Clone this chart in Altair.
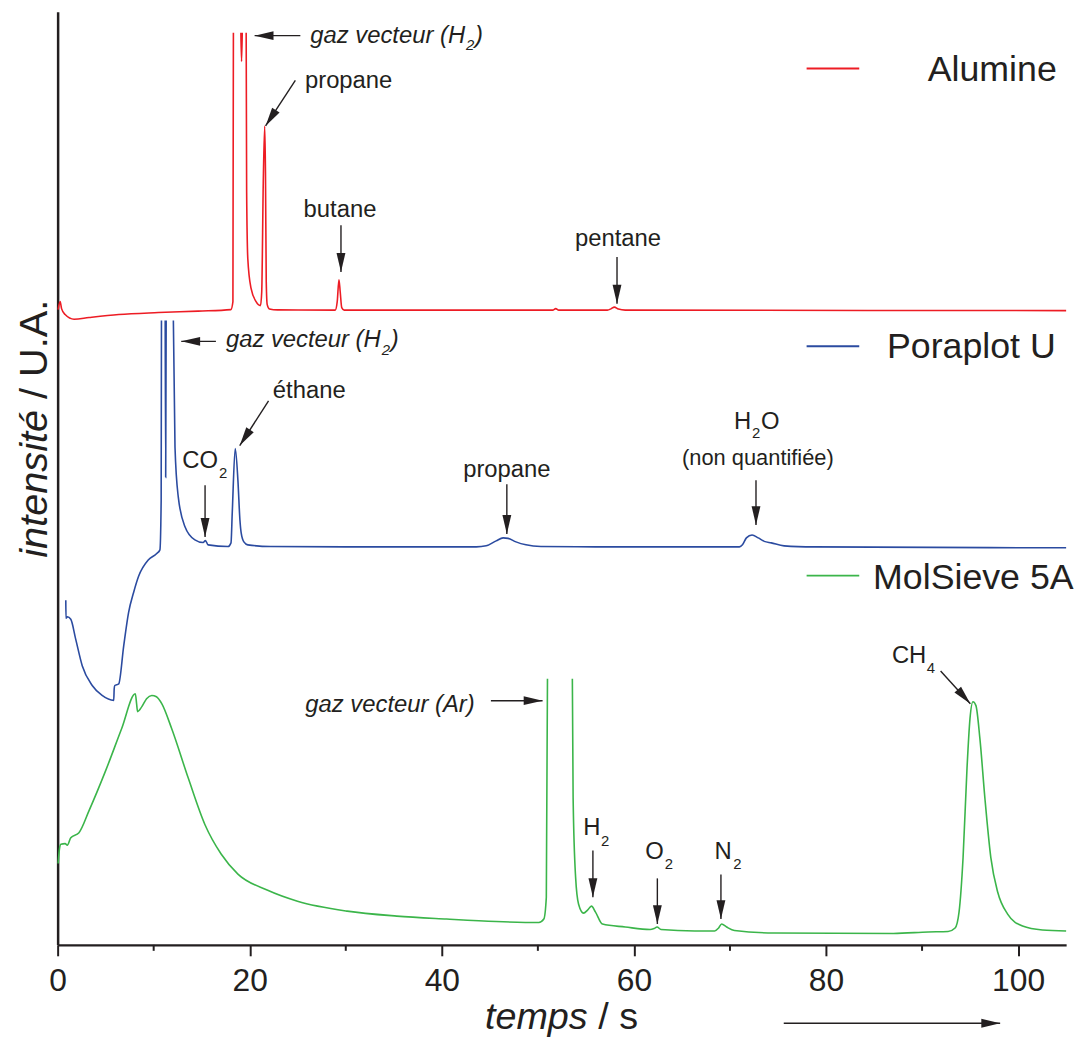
import altair as alt
import pandas as pd

FONT = "Liberation Sans"
INK = "#231f20"
RED = "#ED1C24"
BLUE = "#2B4BA0"
GREEN = "#3BB54A"

# ---------------- traces (time in s, intensity in arbitrary units) ----------------
red_t = [0.05, 0.26, 0.41, 0.78, 1.71, 3.26, 6.36, 10.49, 14.63, 18.04, 18.25, 18.30,
         19.08, 19.15, 19.22,
         19.63, 19.68, 19.80, 20.14, 20.66, 21.12, 21.25, 21.41, 21.56, 21.64, 21.72, 21.82,
         22.05, 22.90, 28.90, 29.11, 29.29, 29.42, 29.58, 29.83, 50.83, 51.55, 51.86, 52.17,
         57.24, 57.65, 57.96, 58.38, 59.10, 105.0]
red_v = [64.0, 64.8, 64.1, 63.5, 63.03, 63.2, 63.5, 63.7, 63.85, 64.0, 64.8, 91.9,
         91.9, 89.0, 91.9,
         91.9, 75.8, 69.13, 66.13, 64.8, 64.4, 65.8, 76.8, 82.5, 77.8, 66.8, 64.5,
         64.07, 63.97, 63.95, 64.8, 67.0, 65.8, 64.2, 63.95, 63.95, 63.95, 64.1, 63.95,
         63.95, 64.1, 64.25, 64.05, 63.95, 63.9]
red_seg = [0] * 12 + [1] * 3 + [2] * 30

blue_t = [0.85, 0.87, 1.01, 1.37, 1.88, 2.56, 3.60, 4.63, 5.84, 5.89, 5.95, 6.36, 6.88, 7.39,
          7.91, 8.43, 9.46, 10.29, 10.65, 10.78, 10.81,
          11.20, 11.25, 11.30,
          12.05, 12.22, 12.56, 13.26, 14.29, 15.15, 15.39, 15.67, 17.74, 18.05, 18.18, 18.49,
          18.77, 18.98, 19.11, 19.39, 19.80, 22.18, 30.14, 43.59, 44.62, 45.66, 46.38, 46.90,
          47.72, 48.76, 50.31, 56.00, 70.99, 71.30, 71.71, 72.30, 72.95, 73.57, 74.30, 75.64,
          78.75, 105.0]
blue_v = [34.73, 32.9, 33.05, 32.8, 30.8, 28.13, 26.13, 25.13, 24.63, 25.8, 26.13, 26.3, 30.13,
          33.5, 35.5, 37.13, 38.8, 39.4, 39.8, 44.8, 62.9,
          62.9, 47.1, 62.9,
          62.9, 50.13, 45.13, 42.13, 40.8, 40.53, 40.73, 40.3, 40.13, 40.5, 43.5, 50.0,
          46.8, 42.8, 41.5, 40.6, 40.3, 40.13, 40.1, 40.1, 40.2, 40.7, 41.0, 40.95,
          40.6, 40.3, 40.13, 40.1, 40.1, 40.3, 41.0, 41.3, 41.0, 40.65, 40.5, 40.2,
          40.1, 40.0]
blue_seg = [0] * 21 + [1] * 3 + [2] * 38

green_t = [0.05, 0.21, 0.33, 0.78, 1.01, 1.37, 2.22, 3.26, 4.98, 6.67, 8.09, 8.22, 8.32, 8.77,
           9.26, 9.80, 10.29, 10.84, 11.87, 13.60, 15.33, 17.04, 18.77, 21.87, 24.97, 30.14,
           35.31, 40.49, 45.66, 50.10, 50.62, 50.88, 51.00,
           53.59, 53.67, 53.93, 54.24, 54.76, 55.17, 55.58, 56.00, 56.72, 59.10, 61.68, 62.10,
           62.41, 62.82, 66.34, 68.41, 68.82, 69.13, 69.65, 70.47, 74.61, 87.02, 90.64, 92.71,
           93.44, 93.85, 94.27, 94.68, 94.99, 95.30, 95.61, 96.02, 96.54, 97.16, 97.88, 98.91,
           100.46, 102.53, 105.0]
green_v = [8.2, 9.8, 10.13, 10.2, 10.05, 10.8, 11.3, 13.5, 17.5, 21.8, 25.3, 24.3, 23.5, 24.0,
           24.8, 25.13, 25.0, 24.3, 21.8, 16.8, 12.13, 9.13, 7.13, 5.5, 4.4, 3.4,
           2.9, 2.6, 2.35, 2.25, 2.6, 4.8, 26.8,
           26.8, 14.8, 6.8, 4.1, 3.2, 3.5, 3.9, 3.3, 2.1, 1.8, 1.55, 1.65,
           1.8, 1.55, 1.4, 1.4, 1.7, 2.1, 1.8, 1.45, 1.2, 1.15, 1.3, 1.35,
           1.7, 3.3, 8.8, 17.8, 22.8, 24.5, 24.1, 20.8, 14.8, 8.8, 5.3, 3.1,
           1.9, 1.5, 1.4]
green_seg = [0] * 33 + [1] * 39

x_ticks = [0, 20, 40, 60, 80, 100]
x_minor = [10, 30, 50, 70, 90]

# ---------------- annotations ----------------
# normal, left aligned
nl_text = ["propane", "CO", "2", "H", "2", "O", "H", "2", "O", "2", "N", "2", "CH", "4"]
nl_t = [25.75, 12.97, 16.79, 70.41, 72.29, 73.22, 54.72, 56.58, 61.18, 63.20, 68.40, 70.33, 86.86, 90.48]
nl_v = [86.3, 48.0, 47.0, 52.0, 51.1, 52.0, 11.1, 10.0, 8.63, 7.65, 8.63, 7.65, 28.4, 27.4]
nl_fs = [24, 24, 15, 24, 15, 24, 24, 15, 24, 15, 24, 15, 24, 15]
# normal, centred
nc_text = ["butane", "pentane", "éthane", "propane", "(non quantifiée)"]
nc_t = [29.40, 58.34, 26.20, 46.77, 72.91]
nc_v = [73.3, 70.4, 55.1, 47.1, 48.3]
nc_fs = [24, 24, 24, 24, 22]
# italic, left aligned
il_text = ["gaz vecteur (H", "2", ")", "gaz vecteur (H", "2", ")", "gaz vecteur (Ar)"]
il_t = [26.30, 42.53, 43.46, 17.52, 33.74, 34.67, 25.79]
il_v = [90.9, 90.13, 90.9, 60.2, 59.45, 60.2, 23.5]
il_fs = [24, 15, 24, 24, 15, 24, 24]

# arrows: start -> tip, head angle
arr_t0 = [25.27, 24.75, 29.50, 58.24, 16.48, 21.96, 15.35, 46.77, 72.71, 45.11, 55.73, 62.44, 69.06, 91.93, 75.60]
arr_v0 = [91.6, 87.1, 72.5, 69.3, 60.8, 54.8, 46.3, 46.4, 46.8, 24.6, 9.5, 6.7, 7.1, 27.6, -7.9]
arr_t1 = [20.51, 21.65, 29.50, 58.24, 12.87, 18.96, 15.35, 46.77, 72.71, 50.49, 55.73, 62.44, 69.06, 95.03, 98.13]
arr_v1 = [91.6, 82.5, 67.8, 64.6, 60.8, 50.3, 41.1, 41.4, 42.3, 24.6, 4.8, 2.1, 2.6, 24.3, -7.9]
arr_ang = [180, 123, 90, 90, 180, 123, 90, 90, 90, 0, 90, 90, 90, 48, 0]

# legend
leg_names = ["Alumine", "Poraplot U", "MolSieve 5A"]
leg_colors = [RED, BLUE, GREEN]
leg_t0 = [77.98, 77.98, 77.98]
leg_t1 = [83.46, 83.46, 83.46]
leg_line_v = [88.3, 60.3, 37.2]
leg_text_t = [90.59, 86.35, 84.90]
leg_text_v = [87.0, 59.1, 35.9]

# axis titles (mixed italic / upright)
xt_italic = ("temps", 44.49, -8.5)
xt_normal = ("/ s", 56.28, -8.5)
yt_italic = ("intensité", -1.085, 39.0)
yt_normal = ("/ U.A.", -1.085, 55.0)

# ---------------- encodings ----------------
XSCALE = alt.Scale(domain=[0, 105], nice=False, zero=False)
YSCALE = alt.Scale(domain=[0, 94], nice=False, zero=False)
XAXIS = alt.Axis(values=x_ticks, title=None, grid=False, tickSize=11, tickWidth=2,
                 tickColor=INK, domainColor=INK, domainWidth=2.5, labelFont=FONT,
                 labelFontSize=32, labelColor=INK, labelPadding=10, labelFlush=False)
YAXIS = alt.Axis(title=None, grid=False, ticks=False, labels=False, domainColor=INK, domainWidth=2.5)


def ex(f="t"):
    return alt.X(f"{f}:Q", scale=XSCALE, axis=XAXIS)


def ey(f="v"):
    return alt.Y(f"{f}:Q", scale=YSCALE, axis=YAXIS)


def trace(ts, vs, segs, color):
    df = pd.DataFrame({"t": ts, "v": vs, "seg": segs})
    return alt.Chart(df).mark_line(color=color, strokeWidth=1.6, interpolate="monotone").encode(
        x=ex(), y=ey(), detail="seg:N")


def texts(labels, ts, vs, fss, **kw):
    df = pd.DataFrame({"label": labels, "t": ts, "v": vs, "fs": fss})
    return alt.Chart(df).mark_text(font=FONT, color=INK, baseline="alphabetic", **kw).encode(
        x=ex(), y=ey(), text="label:N", size=alt.Size("fs:Q", scale=None, legend=None))


layers = []
layers.append(trace(red_t, red_v, red_seg, RED))
layers.append(trace(blue_t, blue_v, blue_seg, BLUE))
layers.append(trace(green_t, green_v, green_seg, GREEN))

# minor ticks on x axis
minor_df = pd.DataFrame({"t": x_minor})
layers.append(alt.Chart(minor_df).mark_rule(color=INK, strokeWidth=2).encode(
    x=ex(), y=alt.value(940), y2=alt.value(946)))

layers.append(texts(nl_text, nl_t, nl_v, nl_fs, align="left"))
layers.append(texts(nc_text, nc_t, nc_v, nc_fs, align="center"))
layers.append(texts(il_text, il_t, il_v, il_fs, align="left", fontStyle="italic"))

arr_df = pd.DataFrame({"t": arr_t0, "v": arr_v0, "t2": arr_t1, "v2": arr_v1, "ang": arr_ang})
layers.append(alt.Chart(arr_df).mark_rule(color=INK, strokeWidth=1.4).encode(
    x=ex(), y=ey(), x2="t2:Q", y2="v2:Q"))
head_df = pd.DataFrame({"t": arr_t1, "v": arr_v1, "ang": arr_ang})
layers.append(alt.Chart(head_df).mark_point(
    shape="M0,0L-2,-0.47L-2,0.47Z", filled=True, size=361, color=INK, opacity=1, strokeWidth=0
).encode(x=ex(), y=ey(), angle=alt.Angle("ang:Q", scale=None)))

# legend
leg_df = pd.DataFrame({"t": leg_t0, "t2": leg_t1, "v": leg_line_v, "c": leg_colors})
layers.append(alt.Chart(leg_df).mark_rule(strokeWidth=2).encode(
    x=ex(), x2="t2:Q", y=ey(), color=alt.Color("c:N", scale=None, legend=None)))
layers.append(texts(leg_names, leg_text_t, leg_text_v, [36, 36, 36], align="left"))

# axis titles
layers.append(texts([xt_italic[0]], [xt_italic[1]], [xt_italic[2]], [38], align="left", fontStyle="italic"))
layers.append(texts([xt_normal[0]], [xt_normal[1]], [xt_normal[2]], [38], align="left"))
layers.append(texts([yt_italic[0]], [yt_italic[1]], [yt_italic[2]], [40], align="left", fontStyle="italic", angle=270))
layers.append(texts([yt_normal[0]], [yt_normal[1]], [yt_normal[2]], [40], align="left", angle=270))

chart = alt.layer(*layers).properties(
    width=1016, height=940,
    autosize=alt.AutoSizeParams(type="none"),
    padding={"left": 50, "top": 0, "right": 18, "bottom": 93},
    background="white",
).configure_view(strokeWidth=0)

chart.save("out.html", embed_options={"renderer": "svg", "actions": False})
